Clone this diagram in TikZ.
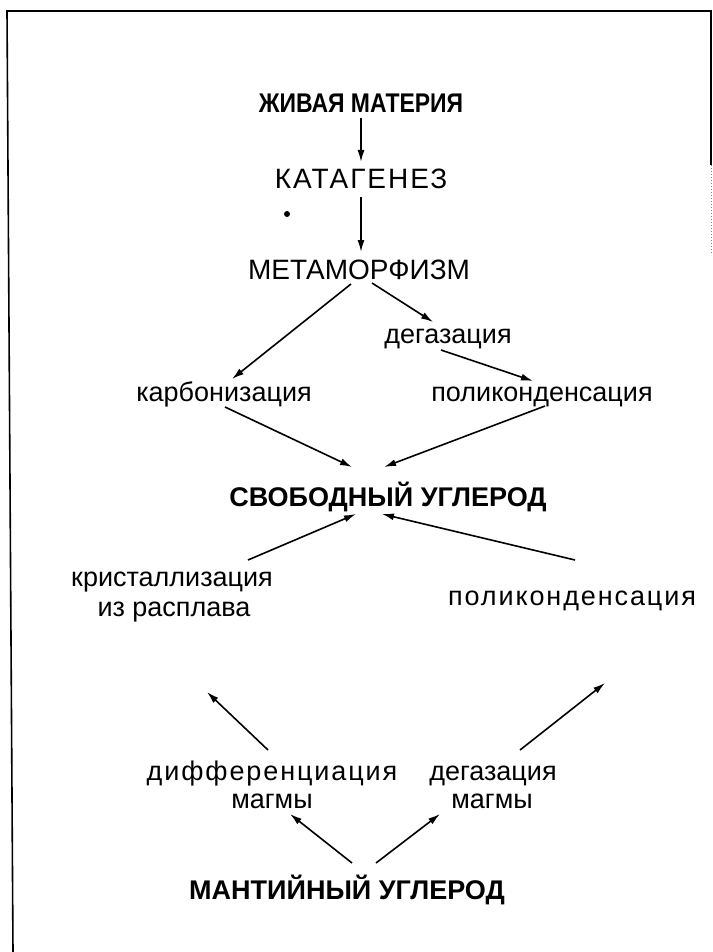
\documentclass[tikz,border=0pt]{standalone}
\usepackage{fontspec}
\usepackage{graphicx}
\setmainfont{Liberation Sans}
\usetikzlibrary{arrows.meta}
\begin{document}
\begin{tikzpicture}[x=1pt,y=-1pt,
  lbl/.style={anchor=base,inner sep=0pt,font=\fontsize{27}{30}\selectfont},
  wide/.style={anchor=base,inner sep=0pt,font=\fontsize{27}{30}\selectfont\addfontfeature{LetterSpace=7}},
  capt/.style={anchor=base,inner sep=0pt,font=\fontsize{28}{30}\selectfont},
  ttl/.style={anchor=base,inner sep=0pt,font=\fontsize{27}{30}\selectfont\bfseries},
  arr/.style={line width=1.6pt,-{Latex[length=12pt,width=7pt]}},
  framel/.style={line width=1.6pt}]
\useasboundingbox (0,0) rectangle (712,952);
% frame
\coordinate (ftl) at (7,11);
\coordinate (ftr) at (711,11);
\coordinate (fbl) at (13,952);
\coordinate (frm) at (711,165);
\coordinate (frb) at (711,255);
\draw[framel] (fbl) -- (ftl) -- (ftr) -- (frm);
\draw[line width=1pt,dotted,gray] (frm) -- (frb);
% stray dot
\fill (287,214) circle (3);
% nodes
\node[ttl] (zhiv) at (361,113) {\scalebox{0.85}[1]{ЖИВАЯ МАТЕРИЯ}};
\node[capt,font=\fontsize{28}{30}\selectfont\addfontfeature{LetterSpace=7}] (kat) at (361,188) {КАТАГЕНЕЗ};
\node[capt] (metam)  at (359,279) {МЕТАМОРФИЗМ};
\node[lbl]  (degaz)  at (448,343) {дегазация};
\node[lbl]  (karb)   at (224,401) {карбонизация};
\node[lbl]  (polik1) at (542,401) {поликонденсация};
\node[ttl]  (svob)   at (388,506) {СВОБОДНЫЙ УГЛЕРОД};
\node[lbl]  (krist)  at (172,586) {кристаллизация};
\node[lbl]  (izras)  at (174,616) {из расплава};
\node[wide] (polik2) at (572,605) {поликонденсация};
\node[wide] (diff)   at (272,780) {дифференциация};
\node[lbl]  (diffm)  at (272,808) {магмы};
\node[lbl]  (degm)   at (493,780) {дегазация};
\node[lbl]  (degmm)  at (492,808) {магмы};
\node[ttl]  (mant)   at (347,899) {МАНТИЙНЫЙ УГЛЕРОД};
% connectors
\draw[arr] ([shift={(0,5)}]zhiv.base) -- ([shift={(0,-26)}]kat.base);
\draw[arr] ([shift={(0,9)}]kat.base) -- ([shift={(2,-27)}]metam.base);
\draw[arr] ([shift={(-8,5)}]metam.base) -- ([shift={(8,-22)}]karb.base);
\draw[arr] ([shift={(13,4)}]metam.base) -- ([shift={(-15,-21)}]degaz.base);
\draw[arr] ([shift={(-7,7)}]degaz.base) -- ([shift={(-9,-20)}]polik1.base);
\draw[arr] ([shift={(1,6)}]karb.base) -- ([shift={(-36,-39)}]svob.base);
\draw[arr] ([shift={(3,5)}]polik1.base) -- ([shift={(-4,-39)}]svob.base);
\draw[arr] ([shift={(76,-26)}]krist.base) -- ([shift={(-32,8)}]svob.base);
\draw[arr] ([shift={(3,-45)}]polik2.base) -- ([shift={(-6,8)}]svob.base);
\draw[arr] ([shift={(-4,-30)}]diff.base) -- ([shift={(33,76)}]izras.base);
\draw[arr] ([shift={(27,-30)}]degm.base) -- ([shift={(33,78)}]polik2.base);
\draw[arr] ([shift={(5,-36)}]mant.base) -- ([shift={(18,6)}]diffm.base);
\draw[arr] ([shift={(29,-36)}]mant.base) -- ([shift={(-52,6)}]degmm.base);
\end{tikzpicture}
\end{document}
